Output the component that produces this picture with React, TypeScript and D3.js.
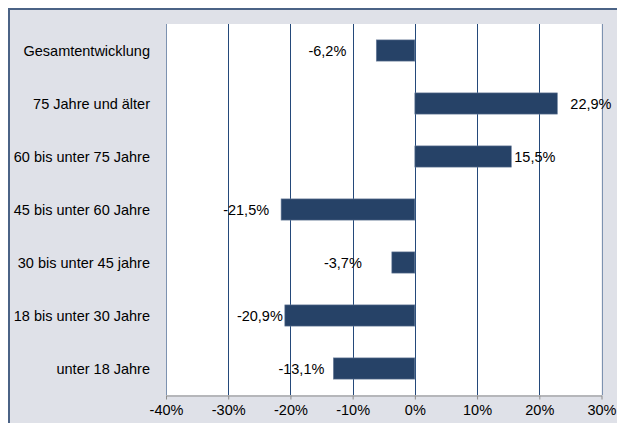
import { useEffect, useRef } from 'react';
import * as d3 from 'd3';

const categories = [
  'Gesamtentwicklung',
  '75 Jahre und älter',
  '60 bis unter 75 Jahre',
  '45 bis unter 60 Jahre',
  '30 bis unter 45 jahre',
  '18 bis unter 30 Jahre',
  'unter 18 Jahre',
];
const values = [-6.2, 22.9, 15.5, -21.5, -3.7, -20.9, -13.1];
const ticks = [-40, -30, -20, -10, 0, 10, 20, 30];
// label gap from bar end, px (labels were placed by hand in the original)
const labelGaps = [30, 13, 3, 12, 30, 2, 9];

const W = 617;
const H = 423;

export default function App() {
  const ref = useRef<SVGSVGElement | null>(null);

  useEffect(() => {
    if (!ref.current) return;
    const svg = d3.select(ref.current);
    svg.selectAll('*').remove();

    const font = '"Liberation Sans", Arial, sans-serif';
    const left = 166, right = 601.5, top = 24, bottom = 395;

    // frame
    svg.append('rect').attr('x', 9).attr('y', 9).attr('width', W).attr('height', H).attr('fill', '#dfe1e8');
    svg.append('line').attr('x1', 8).attr('x2', W).attr('y1', 9).attr('y2', 9)
      .attr('stroke', '#4b6386').attr('stroke-width', 2);
    svg.append('line').attr('x1', 9).attr('x2', 9).attr('y1', 8).attr('y2', H)
      .attr('stroke', '#4b6386').attr('stroke-width', 2);

    const x = d3.scaleLinear().domain([-40, 30]).range([left, right]);
    const y = d3.scaleBand().domain(categories).range([top, bottom]).paddingInner(0.6).paddingOuter(0.3);

    svg.append('rect').attr('x', left).attr('y', top).attr('width', right - left).attr('height', bottom - top)
      .attr('fill', '#ffffff');

    // grid
    svg.append('g').selectAll('line').data(ticks).enter().append('line')
      .attr('x1', d => Math.round(x(d)) + 0.5).attr('x2', d => Math.round(x(d)) + 0.5)
      .attr('y1', top).attr('y2', bottom)
      .attr('stroke', d => (d === -40 || d === 30 ? '#7d92b0' : '#24497a'))
      .attr('stroke-width', 1);

    // axis
    const axis = svg.append('g').attr('transform', `translate(0,${bottom + 0.5})`)
      .call(d3.axisBottom(x).tickValues(ticks).tickSizeOuter(0).tickSizeInner(4).tickPadding(5)
        .tickFormat(d => `${d}%`));
    axis.select('.domain').attr('stroke', '#8c8c8c');
    axis.selectAll('.tick line').attr('stroke', '#8c8c8c');
    axis.selectAll('.tick text').attr('fill', '#000').attr('font-size', '14.5px').attr('font-family', font);

    // category labels
    svg.append('g').selectAll('text').data(categories).enter().append('text')
      .attr('x', 150).attr('y', d => (y(d) as number) + y.bandwidth() / 2)
      .attr('dy', '0.35em').attr('text-anchor', 'end')
      .attr('font-size', '14.5px').attr('font-family', font).attr('fill', '#000')
      .text(d => d);

    // bars
    svg.append('g').selectAll('rect').data(values).enter().append('rect')
      .attr('x', d => x(Math.min(0, d)))
      .attr('y', (d, i) => y(categories[i]) as number)
      .attr('width', d => Math.abs(x(d) - x(0)))
      .attr('height', y.bandwidth())
      .attr('fill', '#264267')
      .attr('stroke', '#6a7f9c').attr('stroke-width', 0.6);

    // value labels
    svg.append('g').selectAll('text').data(values).enter().append('text')
      .attr('x', (d, i) => x(d) + (d < 0 ? -labelGaps[i] : labelGaps[i]))
      .attr('y', (d, i) => (y(categories[i]) as number) + y.bandwidth() / 2)
      .attr('dy', '0.35em')
      .attr('text-anchor', d => (d < 0 ? 'end' : 'start'))
      .attr('font-size', '14.5px').attr('font-family', font).attr('fill', '#000')
      .text(d => `${d.toFixed(1).replace('.', ',')}%`);
  }, []);

  return (
    <svg ref={ref} width={W} height={H}
      style={{ position: 'absolute', left: 0, top: 0, display: 'block' }} />
  );
}
